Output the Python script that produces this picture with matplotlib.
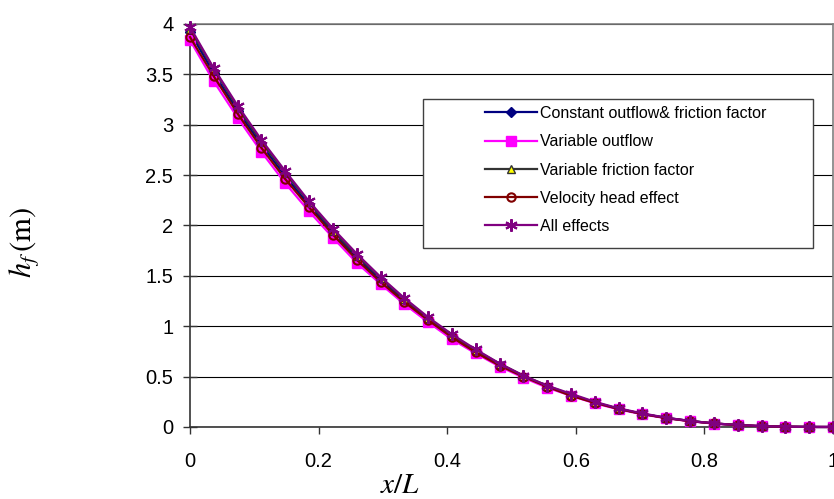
import matplotlib
matplotlib.use("Agg")
import matplotlib.pyplot as plt
from matplotlib.patches import Rectangle
from matplotlib.ticker import FormatStrFormatter
import numpy as np

plt.rcParams["font.family"] = ["Liberation Sans", "DejaVu Sans"]
plt.rcParams["mathtext.fontset"] = "stix"

# 28 stations along the lateral, x/L = k/27
x_over_L = np.arange(28) / 27.0

constant = [3.92, 3.51, 3.14, 2.80, 2.49, 2.20, 1.93, 1.68, 1.46, 1.25,
            1.07, 0.90, 0.75, 0.62, 0.50, 0.40, 0.32, 0.24, 0.18, 0.13,
            0.09, 0.06, 0.035, 0.019, 0.008, 0.003, 0.0005, 0.0]
variable_outflow = [3.84, 3.43, 3.07, 2.73, 2.42, 2.14, 1.88, 1.63, 1.42, 1.22,
                    1.04, 0.87, 0.73, 0.60, 0.49, 0.39, 0.31, 0.235, 0.175, 0.125,
                    0.087, 0.057, 0.034, 0.018, 0.008, 0.003, 0.0005, 0.0]
variable_friction = [3.95, 3.55, 3.17, 2.83, 2.52, 2.23, 1.95, 1.70, 1.48, 1.27,
                     1.08, 0.91, 0.76, 0.63, 0.51, 0.41, 0.32, 0.245, 0.18, 0.13,
                     0.09, 0.06, 0.036, 0.019, 0.008, 0.003, 0.0005, 0.0]
velocity_head = [3.87, 3.48, 3.11, 2.77, 2.46, 2.18, 1.91, 1.66, 1.44, 1.24,
                 1.06, 0.89, 0.74, 0.61, 0.50, 0.40, 0.31, 0.24, 0.18, 0.13,
                 0.088, 0.058, 0.035, 0.019, 0.008, 0.003, 0.0005, 0.0]
all_effects = [3.97, 3.56, 3.19, 2.85, 2.54, 2.24, 1.97, 1.72, 1.49, 1.28,
               1.09, 0.92, 0.77, 0.63, 0.51, 0.41, 0.33, 0.25, 0.185, 0.135,
               0.092, 0.06, 0.036, 0.02, 0.009, 0.003, 0.0005, 0.0]

series = [
    ("Constant outflow& friction factor", constant,
     dict(color="#000080", marker="D", ms=5.5, mfc="#000080", mec="#000080")),
    ("Variable outflow", variable_outflow,
     dict(color="#FF00FF", marker="s", ms=7, mfc="#FF00FF", mec="#FF00FF")),
    ("Variable friction factor", variable_friction,
     dict(color="#333333", marker="^", ms=6, mfc="#FFFF00", mec="#333333")),
    ("Velocity head effect", velocity_head,
     dict(color="#800000", marker="o", ms=6, mfc="none", mec="#800000", mew=1.5)),
    ("All effects", all_effects,
     dict(color="#800080", marker=(6, 2, 0), ms=9, mfc="#800080", mec="#800080", mew=1.5)),
]

W, H = 834, 499
fig = plt.figure(figsize=(W / 100, H / 100), dpi=100)
ax = fig.add_axes([190 / W, 1 - 427 / H, 643 / W, 403 / H])

handles = []
for label, y, style in series:
    (ln,) = ax.plot(x_over_L, y, lw=1.6, label=label, clip_on=False, zorder=3, **style)
    handles.append(ln)

ax.set_xlim(0, 1)
ax.set_ylim(0, 4)
ax.set_xticks([0, 0.2, 0.4, 0.6, 0.8, 1.0])
ax.set_yticks(np.arange(0, 4.01, 0.5))
ax.xaxis.set_major_formatter(FormatStrFormatter("%g"))
ax.yaxis.set_major_formatter(FormatStrFormatter("%g"))
ax.grid(axis="y", color="black", lw=0.8, zorder=0)
ax.set_axisbelow(True)

for side in ("top", "right"):
    ax.spines[side].set_color("#808080")
    ax.spines[side].set_linewidth(1.2)
for side in ("left", "bottom"):
    ax.spines[side].set_color("#333333")
    ax.spines[side].set_linewidth(1.2)

ax.tick_params(axis="y", direction="inout", length=10, width=1, pad=7,
               labelsize=14.5, color="#333333")
ax.tick_params(axis="x", direction="out", length=5, width=1, pad=13,
               labelsize=14.5, color="#333333")

fig.text(25 / W, 1 - 243 / H, r"$h_f\,\mathrm{(m)}$", rotation=90,
         ha="center", va="center", fontsize=22)
fig.text(400 / W, 1 - 485 / H, r"$x/L$", ha="center", va="center", fontsize=21)

# legend box drawn separately to match the fixed-size frame
fig.patches.append(Rectangle((423 / W, 1 - 248 / H), 390 / W, 149 / H,
                             transform=fig.transFigure, fill=True, fc="white",
                             ec="#404040", lw=1.0, zorder=4))
leg = fig.legend(handles=handles, loc="upper left",
                 bbox_to_anchor=(485 / W, 1 - 106 / H), frameon=False,
                 borderpad=0, borderaxespad=0, handlelength=3.25,
                 handletextpad=0.2, labelspacing=0.83, numpoints=1,
                 fontsize=11.5)
leg.set_zorder(5)

fig.savefig("out.png", dpi=100)
